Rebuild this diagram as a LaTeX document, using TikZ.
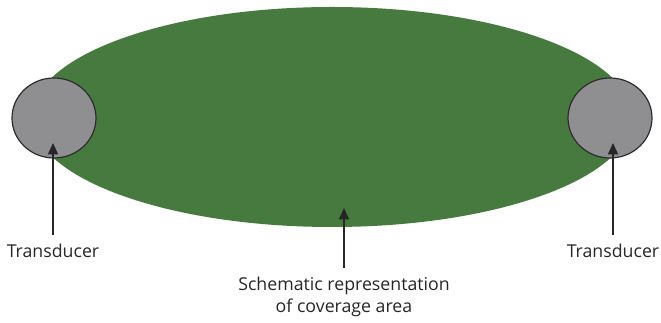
\documentclass[tikz,border=0pt]{standalone}
\usepackage{fontspec}
\setmainfont{Open Sans}
\usetikzlibrary{arrows.meta,shapes.geometric,positioning}
\definecolor{cvGreen}{RGB}{71,122,62}
\definecolor{cvGrey}{RGB}{143,143,145}
\definecolor{cvRim}{RGB}{45,45,45}
\definecolor{cvInk}{RGB}{38,38,38}
\tikzset{
  transducer/.style={ellipse, fill=cvGrey, draw=cvRim, line width=0.9pt,
    minimum width=63pt, minimum height=60pt, inner sep=0pt},
  pointer/.style={draw=cvInk, line width=1pt,
    -{Triangle[width=7.5pt,length=8.5pt]}, shorten <=7pt},
  caption/.style={inner sep=0pt, text=cvInk, font=\fontsize{13.3}{16.5}\selectfont}
}

\begin{document}
\begin{tikzpicture}[x=0.75pt,y=-0.75pt]
  \useasboundingbox (0,0) rectangle (661,323);
  \node[ellipse, fill=cvGreen, minimum width=450pt, minimum height=165pt,
    inner sep=0pt] (area) at (332,117) {};
  \node[transducer] (tdL) at (54,118) {};
  \node[transducer] (tdR) at (610,118) {};
  \coordinate (aimL) at (53,143);
  \coordinate (aimR) at (613,143);
  \coordinate (aimC) at (344,208);
  \node[caption, anchor=base] (labL) at (53,258) {Transducer};
  \node[caption, anchor=base] (labR) at (613,258) {Transducer};
  \node[caption, anchor=north, align=center] (labC) at (344,277)
    {Schematic representation\\of coverage area};
  \draw[pointer] (labL.north) -- (aimL);
  \draw[pointer] (labR.north) -- (aimR);
  \draw[pointer] (labC.north) -- (aimC);
\end{tikzpicture}
\end{document}
